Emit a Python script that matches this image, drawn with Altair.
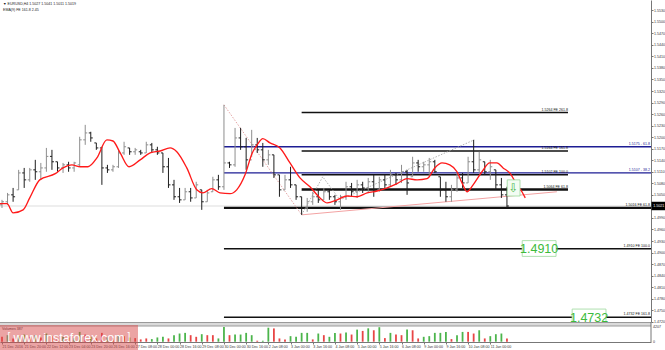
import altair as alt
import pandas as pd

# ---------------- data ----------------
bar_high = [1.5037,1.5055,1.5068,1.5115,1.5120,1.5120,1.5141,1.5133,1.5172,1.5167,
            1.5136,1.5133,1.5136,1.5136,1.5201,1.5232,1.5214,1.5185,1.5175,1.5128,
            1.5128,1.5167,1.5188,1.5172,1.5172,1.5167,1.5188,1.5185,1.5175,1.5159,
            1.5146,1.5089,1.5068,1.5068,1.5068,1.5084,1.5063,1.5063,1.5097,1.5102,
            1.5284,1.5136,1.5224,1.5224,1.5198,1.5219,1.5198,1.5185,1.5167,1.5154,
            1.5102,1.5102,1.5123,1.5076,1.5045,1.5042,1.5058,1.5063,1.5068,1.5063,
            1.5050,1.5050,1.5084,1.5081,1.5089,1.5084,1.5094,1.5102,1.5097,1.5102,
            1.5115,1.5107,1.5128,1.5115,1.5149,1.5141,1.5136,1.5146,1.5141,1.5097,
            1.5084,1.5076,1.5107,1.5107,1.5149,1.5193,1.5162,1.5136,1.5141,1.5115,
            1.5094,1.5071]
bar_low = [1.5016,1.5024,1.5032,1.5063,1.5068,1.5084,1.5089,1.5089,1.5110,1.5115,
           1.5110,1.5107,1.5110,1.5110,1.5123,1.5180,1.5188,1.5167,1.5076,1.5107,
           1.5110,1.5120,1.5154,1.5154,1.5154,1.5154,1.5159,1.5159,1.5154,1.5107,
           1.5068,1.5037,1.5029,1.5037,1.5032,1.5042,1.5011,1.5032,1.5058,1.5063,
           1.5063,1.5120,1.5123,1.5167,1.5115,1.5149,1.5159,1.5123,1.5128,1.5094,
           1.5045,1.5063,1.5068,1.5037,1.4998,1.5006,1.5024,1.5029,1.5037,1.5037,
           1.5024,1.5011,1.5037,1.5045,1.5042,1.5055,1.5055,1.5045,1.5058,1.5063,
           1.5071,1.5076,1.5081,1.5050,1.5097,1.5110,1.5110,1.5102,1.5107,1.5045,
           1.5032,1.5032,1.5058,1.5068,1.5081,1.5107,1.5107,1.5102,1.5089,1.5063,
           1.5042,1.5016]
bar_open = [1.5024,1.5032,1.5050,1.5063,1.5107,1.5089,1.5115,1.5110,1.5120,1.5150,
            1.5136,1.5120,1.5128,1.5120,1.5128,1.5193,1.5211,1.5185,1.5172,1.5120,
            1.5115,1.5123,1.5159,1.5172,1.5162,1.5162,1.5159,1.5180,1.5167,1.5159,
            1.5123,1.5076,1.5045,1.5037,1.5058,1.5042,1.5063,1.5032,1.5058,1.5089,
            1.5071,1.5133,1.5128,1.5198,1.5175,1.5141,1.5180,1.5167,1.5141,1.5154,
            1.5102,1.5063,1.5089,1.5076,1.5045,1.5016,1.5032,1.5045,1.5037,1.5058,
            1.5045,1.5032,1.5045,1.5071,1.5058,1.5076,1.5068,1.5084,1.5063,1.5089,
            1.5076,1.5102,1.5089,1.5110,1.5097,1.5133,1.5123,1.5128,1.5136,1.5097,
            1.5063,1.5045,1.5063,1.5094,1.5081,1.5136,1.5115,1.5136,1.5110,1.5115,
            1.5076,1.5050]
bar_close = [1.5032,1.5050,1.5045,1.5107,1.5089,1.5115,1.5110,1.5120,1.5150,1.5136,
             1.5120,1.5128,1.5120,1.5133,1.5193,1.5211,1.5198,1.5172,1.5120,1.5115,
             1.5123,1.5159,1.5175,1.5162,1.5167,1.5159,1.5180,1.5167,1.5159,1.5123,
             1.5076,1.5045,1.5037,1.5058,1.5042,1.5076,1.5032,1.5055,1.5089,1.5071,
             1.5133,1.5128,1.5198,1.5175,1.5141,1.5180,1.5167,1.5141,1.5154,1.5102,
             1.5063,1.5089,1.5076,1.5045,1.5016,1.5032,1.5045,1.5037,1.5058,1.5045,
             1.5032,1.5045,1.5071,1.5058,1.5076,1.5068,1.5084,1.5063,1.5089,1.5076,
             1.5102,1.5089,1.5110,1.5081,1.5133,1.5123,1.5128,1.5136,1.5110,1.5063,
             1.5045,1.5063,1.5094,1.5081,1.5136,1.5115,1.5141,1.5110,1.5123,1.5076,
             1.5050,1.5021]
volume = [1400,1870,935,1590,2050,1400,1870,1200,2340,1590,935,1400,1210,1030,2800,
          2050,1400,935,2525,1200,1030,1870,1590,1210,1030,
          655,935,750,1215,1400,935,1870,2340,2525,1870,1400,2150,1870,1870,935,
          4207,1870,2050,2050,2525,1870,280,280,4000,3800,935,655,1590,1400,2525,
          2525,655,2340,1870,1400,
          2525,2340,2620,2050,3460,3085,3830,3270,4150,1030,2525,2050,1870,3460,
          3270,935,1400,1590,2525,2525,2800,750,1870,2800,2800,2340,3270,935,1590,
          2150,2340,935]
vol_color = ['r','g','r','g','g','r','g','r','g','r','r','g','r','g','g','r','g','r',
             'r','g','r','g','r','g','r',
             'r','r','g','g','g','r','g','g','g','r','r','g','r','r','g','g','r','g',
             'g','g','g','r','g','g','r','r','r','g','g','g','g','r','g','r','g',
             'g','r','g','r','g','r','g','r','g','r','g','r','r','g','r','r','g','g',
             'g','g','g','r','g','g','r','r','g','r','g','g','g','r']

date_index = [0,4,8,12,16,20,24,28,32,36,40,44,48,52,56,60,64,68,72,76,80,84,88]
date_labels = ["21 Dec 2016","21 Dec 20:00","22 Dec 12:00","23 Dec 04:00","23 Dec 20:00",
               "26 Dec 16:00","27 Dec 08:00","28 Dec 00:00","28 Dec 16:00","29 Dec 08:00",
               "30 Dec 00:00","30 Dec 16:00","2 Jan 08:00","3 Jan 00:00","3 Jan 16:00",
               "4 Jan 08:00","5 Jan 00:00","5 Jan 16:00","6 Jan 08:00","9 Jan 00:00",
               "9 Jan 16:00","10 Jan 08:00","11 Jan 00:00"]
price_ticks = [1.4720,1.4750,1.4780,1.4810,1.4840,1.4870,1.4900,1.4930,1.4960,1.4990,
               1.5020,1.5050,1.5080,1.5110,1.5140,1.5170,1.5200,1.5230,1.5260,1.5290,
               1.5320,1.5350,1.5380,1.5410,1.5440,1.5470,1.5500,1.5530]

ma_index = [-0.36,0.9,2.0,3.8,5.0,6.8,9.6,11.0,12.6,14.1,15.5,17.1,18.9,20.0,21.3,22.9,
            24.9,26.7,28.5,30.3,31.5,33.3,35.1,36.2,37.8,39.3,41.1,42.3,43.8,45.1,46.0,
            47.0,48.3,50.1,51.9,53.7,55.5,57.3,58.6,60.4,62.2,64.0,65.8,67.6,69.4,71.2,
            73.0,74.8,76.6,78.0,79.3,80.7,82.0,82.9,83.8,84.9,86.5,87.9,89.2,90.3,91.5,
            92.8,93.7,94.3]
ma_price = [1.5027,1.5027,1.5003,1.5011,1.5042,1.5089,1.5105,1.5120,1.5128,1.5123,
            1.5123,1.5146,1.5193,1.5190,1.5159,1.5123,1.5141,1.5159,1.5164,1.5172,
            1.5162,1.5120,1.5063,1.5055,1.5066,1.5055,1.5053,1.5063,1.5102,1.5159,
            1.5180,1.5196,1.5185,1.5172,1.5133,1.5094,1.5071,1.5042,1.5029,1.5037,
            1.5047,1.5045,1.5055,1.5060,1.5068,1.5079,1.5092,1.5089,1.5092,1.5120,
            1.5133,1.5128,1.5110,1.5081,1.5058,1.5076,1.5110,1.5133,1.5133,1.5120,
            1.5107,1.5076,1.5058,1.5042]

fe_price = [1.5264, 1.5164, 1.5102, 1.5064, 1.5016, 1.4910, 1.4732]
fe_ratio = ["261.8", "161.8", "100.0", "61.8", "61.8", "100.0", "161.8"]
fe_from = [54, 54, 54, 54, 40, 40, 40]
fe_to = [102, 102, 102, 102, 117, 117, 117]

ret_price = [1.5175, 1.5107]
ret_level = ["61.8", "38.2"]
ret_from = [40, 40]
ret_to = [117, 117]

swing_index = [40, 54]
swing_price = [1.5284, 1.4998]
trend_index = [54, 100]
trend_price = [1.4998, 1.5058]
zig_index = [54, 57.8, 60.9, 85.1]
zig_price = [1.4998, 1.5097, 1.5037, 1.5193]

arrow_index = [92.2]
arrow_price = [1.5068]
target_index = [96.8, 105.8]
target_price = [1.4910, 1.4732]

current_price = 1.5021
header_1 = "\u25bc EURUSD,H4  1.5027 1.5041 1.5011 1.5019"
header_2 = "EMA(9)   FE 161.8   2.45"
vol_title = "Volumes 387"
vol_max = 4207
watermark = "www.instaforex.com"

# ---------------- chart ----------------
FONT = "Liberation Sans"
FS = 3.6
n = len(bar_high)
bars = pd.DataFrame({"i": list(range(n)), "high": bar_high, "low": bar_low,
                     "open": bar_open, "close": bar_close,
                     "vol": volume, "vc": vol_color})

XS = alt.Scale(domain=[-0.36, 116.96], nice=False, zero=False)
YS = alt.Scale(domain=[1.47194, 1.55566], range=[322, 0], nice=False, zero=False)
VS = alt.Scale(domain=[0, vol_max], range=[341.7, 327], nice=False)

lab_arr = "[" + ",".join("'" + s + "'" for s in date_labels) + "]"
tick_arr = "[" + ",".join(str(v) for v in date_index) + "]"
x_axis = alt.Axis(values=date_index,
                  labelExpr=lab_arr + "[indexof(" + tick_arr + ", datum.value)]",
                  labelAlign="left", labelBaseline="top", labelFontSize=FS,
                  labelColor="#333", labelPadding=0.5, tickSize=2, tickColor="#777",
                  domainColor="#777", grid=False, title=None, labelOverlap=False,
                  labelFlush=False)
y_axis = alt.Axis(orient="right", values=price_ticks, format=".4f",
                  labelFontSize=FS, labelColor="#333", labelPadding=0.5,
                  tickSize=2, tickColor="#777", domainColor="#777", grid=False,
                  title=None, labelOverlap=False, labelFlush=False)


def X(f):
    return alt.X(f, type="quantitative", scale=XS, axis=x_axis)


def Y(f):
    return alt.Y(f, type="quantitative", scale=YS, axis=y_axis)


one = pd.DataFrame({"p": [current_price]})

bid = alt.Chart(one).mark_rule(color="#d4d4d4", strokeWidth=0.8).encode(
    x=alt.value(0), x2=alt.value(651), y=Y("p"))

ret_df = pd.DataFrame({"p": ret_price, "lvl": ret_level, "x0": ret_from, "x1": ret_to})
ret_lines = alt.Chart(ret_df).mark_rule(color="#1d1d94", strokeWidth=1.4, clip=True).encode(
    x=X("x0"), x2="x1", y=Y("p"))
ret_text = alt.Chart(ret_df).transform_calculate(
    lab="format(datum.p, '.4f') + ' - ' + datum.lvl").mark_text(
    align="right", baseline="bottom", dy=-0.6, fontSize=FS, color="#1d1d94").encode(
    x=alt.value(650), y=Y("p"), text="lab:N")

fe_df = pd.DataFrame({"p": fe_price, "r": fe_ratio, "x0": fe_from, "x1": fe_to})
fe_lines = alt.Chart(fe_df).mark_rule(color="#111111", clip=True).encode(
    x=X("x0"), x2="x1", y=Y("p"),
    strokeWidth=alt.condition("datum.r == '61.8'", alt.value(2.4), alt.value(1.5)))
fe_text = alt.Chart(fe_df).transform_calculate(
    lab="format(datum.p, '.4f') + ' FE ' + datum.r",
    xe="min(datum.x1, 116.8)").mark_text(
    align="right", baseline="bottom", dy=-0.8, fontSize=FS, color="#111").encode(
    x=X("xe"), y=Y("p"), text="lab:N")

swing = alt.Chart(pd.DataFrame({"i": swing_index, "p": swing_price})).mark_line(
    color="#e09a9a", strokeWidth=0.9, strokeDash=[1.5, 1.5]).encode(x=X("i"), y=Y("p"))
trend = alt.Chart(pd.DataFrame({"i": trend_index, "p": trend_price})).mark_line(
    color="#f3a3a3", strokeWidth=1).encode(x=X("i"), y=Y("p"))
zig = alt.Chart(pd.DataFrame({"i": zig_index, "p": zig_price})).mark_line(
    color="#a8a8a8", strokeWidth=0.9, strokeDash=[1.5, 1.5]).encode(x=X("i"), y=Y("p"))

bar_col = alt.condition("datum.close >= datum.open", alt.value("#8e8e8e"), alt.value("#1e1e1e"))
hl = alt.Chart(bars).mark_rule(strokeWidth=1).encode(
    x=X("i"), y=Y("high"), y2="low", color=bar_col)
op = alt.Chart(bars).mark_rule(strokeWidth=1, xOffset=-2).encode(
    x=X("i"), x2="i", y=Y("open"), color=bar_col)
cl = alt.Chart(bars).mark_rule(strokeWidth=1, x2Offset=2).encode(
    x=X("i"), x2="i", y=Y("close"), color=bar_col)

ma = alt.Chart(pd.DataFrame({"mi": ma_index, "mp": ma_price})).mark_line(
    color="#ff1a1a", strokeWidth=1.35, interpolate="monotone").encode(x=X("mi"), y=Y("mp"))

arrow_df = pd.DataFrame({"i": arrow_index, "p": arrow_price})
arrow_box = alt.Chart(arrow_df).transform_calculate(
    a="datum.i - 1.15", b="datum.i + 1.15", c="datum.p + 0.0021", d="datum.p - 0.0021"
).mark_rect(fill="#f3fcf3", stroke="#9ad89a", strokeWidth=0.8).encode(
    x=X("a:Q"), x2="b:Q", y=Y("c:Q"), y2="d:Q")
arrow_txt = alt.Chart(arrow_df).mark_text(
    text="\u21e9", fontSize=12, color="#4cb84c", font="DejaVu Sans").encode(x=X("i"), y=Y("p"))

tgt_df = pd.DataFrame({"i": target_index, "p": target_price})
tgt_box = alt.Chart(tgt_df).transform_calculate(
    a="datum.i - 3.05", b="datum.i + 3.05", c="datum.p + 0.0021", d="datum.p - 0.0020"
).mark_rect(fill="white", stroke="#a6dca6", strokeWidth=0.9).encode(
    x=X("a:Q"), x2="b:Q", y=Y("c:Q"), y2="d:Q")
tgt_txt = alt.Chart(tgt_df).transform_calculate(lab="format(datum.p, '.4f')").mark_text(
    fontSize=12.5, color="#3cbb3c", font=FONT, dy=0.5).encode(
    x=X("i"), y=Y("p"), text="lab:N")

cur_box = alt.Chart(one).transform_calculate(
    c="datum.p + 0.0011", d="datum.p - 0.0011").mark_rect(color="#000").encode(
    x=alt.value(651.5), x2=alt.value(665), y=Y("c:Q"), y2="d:Q")
cur_txt = alt.Chart(one).transform_calculate(lab="format(datum.p, '.4f')").mark_text(
    align="left", fontSize=FS, color="white").encode(
    x=alt.value(653.2), y=Y("p"), text="lab:N")

hdr = alt.Chart(pd.DataFrame({"t": [header_1, header_2], "k": [0, 1]})).transform_calculate(
    yy="3.5 + datum.k * 6").mark_text(
    align="left", baseline="middle", fontSize=FS, color="#222").encode(
    x=alt.value(3), y=alt.Y("yy:Q", scale=None), text="t:N")

price = alt.layer(bid, ret_lines, fe_lines, swing, trend, zig, hl, op, cl, ma,
                  fe_text, ret_text, arrow_box, arrow_txt, tgt_box, tgt_txt,
                  cur_box, cur_txt)

# ---- volume panel ----
vol_col = alt.condition("datum.vc == 'g'", alt.value("#4cb54c"), alt.value("#e84545"))
vbars = alt.Chart(bars).mark_rule(strokeWidth=1.8).encode(
    x=X("i"), y=alt.Y("vol", type="quantitative", scale=VS, axis=None),
    y2=alt.datum(0), color=vol_col)
vlab = alt.Chart(pd.DataFrame({"v": [vol_max, 0]})).mark_text(
    align="left", baseline="middle", fontSize=FS, color="#333").encode(
    x=alt.value(653), y=alt.Y("v", type="quantitative", scale=VS, axis=None), text="v:Q")
deco = pd.DataFrame({"d": [0]})
sep_fill = alt.Chart(deco).mark_rect(color="#dadada").encode(
    x=alt.value(0), x2=alt.value(651), y=alt.value(322.5), y2=alt.value(326))
sep1 = alt.Chart(deco).mark_rule(color="#9a9a9a", strokeWidth=1).encode(
    x=alt.value(0), x2=alt.value(651), y=alt.value(322.5))
sep2 = alt.Chart(deco).mark_rule(color="#9a9a9a", strokeWidth=1).encode(
    x=alt.value(0), x2=alt.value(651), y=alt.value(326))
vaxis = alt.Chart(deco).mark_rule(color="#777", strokeWidth=1).encode(
    x=alt.value(651), y=alt.value(322), y2=alt.value(342))
vtitle = alt.Chart(pd.DataFrame({"t": [vol_title]})).mark_text(
    align="left", baseline="middle", fontSize=FS, color="#222").encode(
    x=alt.value(2), y=alt.value(328.5), text="t:N")
wm_rect = alt.Chart(deco).mark_rect(color="#d84a4a", opacity=0.5).encode(
    x=alt.value(0), x2=alt.value(138), y=alt.value(325), y2=alt.value(350))
wm_text = alt.Chart(pd.DataFrame({"t": [watermark]})).mark_text(
    fontSize=12.5, color="white", font=FONT, baseline="middle").encode(
    x=alt.value(69), y=alt.value(337.5), text="t:N")
wm_br = alt.Chart(pd.DataFrame({"t": ["[", "]"], "x": [9, 129]})).mark_text(
    fontSize=10, color="white", font=FONT, baseline="middle", fontWeight=300).encode(
    x=alt.X("x:Q", scale=None), y=alt.value(337), text="t:N")

vol = alt.layer(sep_fill, sep1, sep2, vaxis, vbars, vlab, vtitle, wm_rect, wm_text, wm_br)

chart = alt.layer(price, vol, hdr).resolve_scale(y="independent", x="shared").properties(
    width=651, height=342,
    autosize=alt.AutoSizeParams(type="none"),
    padding={"left": 0, "top": 0, "right": 14, "bottom": 8},
).configure(font=FONT).configure_view(stroke=None)

chart.save("out.html", embed_options={"renderer": "svg", "actions": False})
